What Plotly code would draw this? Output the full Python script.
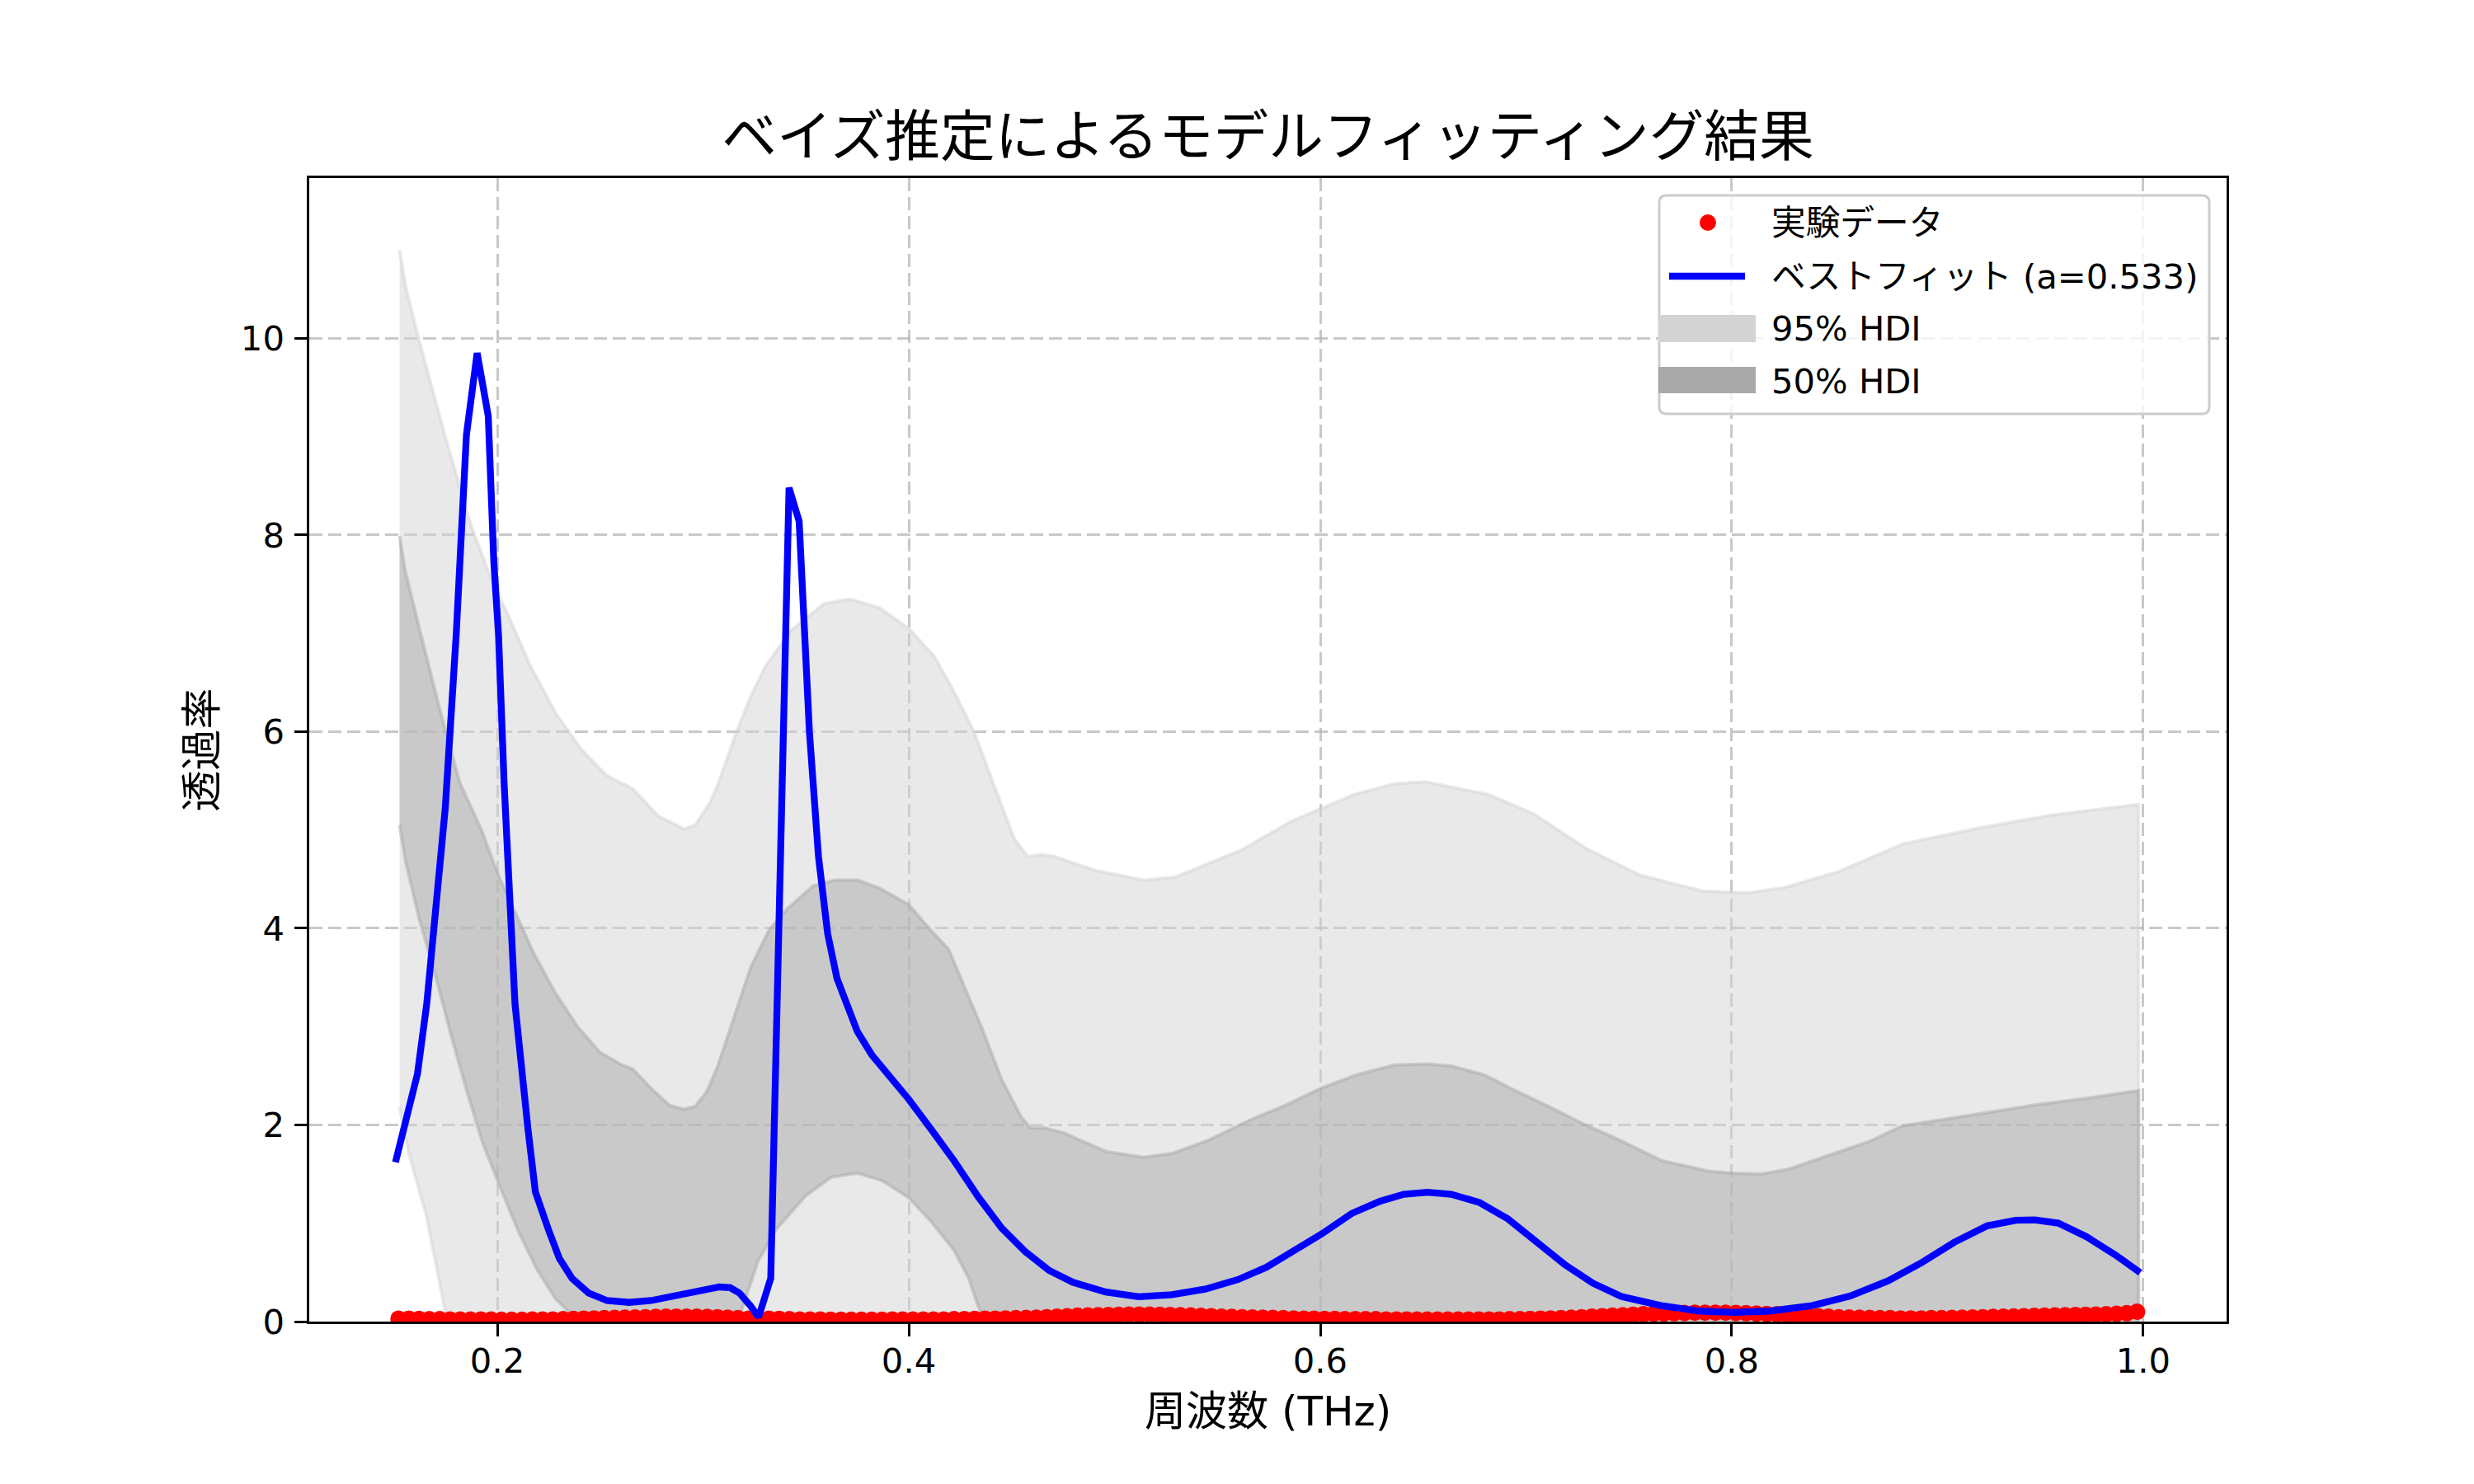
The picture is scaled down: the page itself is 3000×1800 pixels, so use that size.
import numpy as np
import plotly.graph_objects as go

FONT = "DejaVu Sans, Noto Sans CJK JP"

# experimental data (transmission at each measured frequency)
trans_exp = [
    0.03, 0.03, 0.028, 0.025, 0.025, 0.022, 0.02, 0.02, 0.02, 0.02,
    0.018, 0.018, 0.018, 0.02, 0.02, 0.022, 0.025, 0.028, 0.03, 0.032,
    0.035, 0.038, 0.04, 0.042, 0.045, 0.048, 0.05, 0.05, 0.05, 0.05,
    0.048, 0.045, 0.04, 0.035, 0.03, 0.03, 0.03, 0.028, 0.025, 0.022,
    0.02, 0.02, 0.018, 0.018, 0.018, 0.018, 0.018, 0.018, 0.02, 0.02,
    0.02, 0.02, 0.022, 0.022, 0.025, 0.025, 0.028, 0.03, 0.03, 0.032,
    0.035, 0.038, 0.04, 0.045, 0.05, 0.055, 0.06, 0.062, 0.065, 0.068,
    0.07, 0.072, 0.072, 0.072, 0.07, 0.068, 0.065, 0.062, 0.058, 0.055,
    0.05, 0.048, 0.045, 0.042, 0.04, 0.038, 0.035, 0.032, 0.03, 0.03,
    0.028, 0.028, 0.025, 0.025, 0.025, 0.025, 0.022, 0.022, 0.022, 0.02,
    0.02, 0.02, 0.02, 0.02, 0.02, 0.02, 0.022, 0.022, 0.025, 0.025,
    0.028, 0.03, 0.032, 0.035, 0.04, 0.045, 0.05, 0.055, 0.06, 0.065,
    0.07, 0.075, 0.08, 0.082, 0.085, 0.088, 0.09, 0.09, 0.09, 0.09,
    0.088, 0.085, 0.082, 0.078, 0.075, 0.07, 0.065, 0.06, 0.055, 0.05,
    0.045, 0.042, 0.04, 0.038, 0.035, 0.035, 0.032, 0.032, 0.032, 0.035,
    0.035, 0.038, 0.04, 0.042, 0.045, 0.048, 0.05, 0.052, 0.055, 0.058,
    0.06, 0.062, 0.065, 0.068, 0.07, 0.072, 0.075, 0.08, 0.085, 0.1,
]
freq_exp = np.linspace(0.152, 0.997, len(trans_exp))

# best fit curve
fit_x = [0.1505, 0.1559, 0.1612, 0.1657, 0.1702, 0.1747, 0.1800, 0.1850, 0.1902, 0.1956,
         0.1983, 0.2006, 0.2033, 0.2059, 0.2086, 0.2149, 0.2185, 0.2247, 0.2301, 0.2363,
         0.2444, 0.2533, 0.2640, 0.2748, 0.2873, 0.2998, 0.3079, 0.3132, 0.3177, 0.3231,
         0.3270, 0.3329, 0.3356, 0.3383, 0.3418, 0.3467, 0.3517, 0.3561, 0.3606, 0.3651,
         0.3705, 0.3750, 0.3821, 0.3911, 0.4000, 0.4107, 0.4222, 0.4337, 0.4452, 0.4567,
         0.4682, 0.4797, 0.4958, 0.5118, 0.5279, 0.5440, 0.5601, 0.5739, 0.5877, 0.6006,
         0.6153, 0.6291, 0.6406, 0.6521, 0.6636, 0.6774, 0.6912, 0.7050, 0.7187, 0.7325,
         0.7463, 0.7656, 0.7840, 0.8012, 0.8185, 0.8391, 0.8575, 0.8759, 0.8920, 0.9081,
         0.9242, 0.9380, 0.9472, 0.9587, 0.9725, 0.9863, 0.9985]
fit_y = [1.62, 2.05, 2.52, 3.23, 4.20, 5.22, 6.98, 9.02, 9.85, 9.21,
         7.73, 6.98, 5.48, 4.35, 3.23, 1.96, 1.32, 0.944, 0.645, 0.44,
         0.29, 0.214, 0.195, 0.214, 0.27, 0.326, 0.352, 0.345, 0.29, 0.158,
         0.045, 0.44, 3.0, 5.3, 8.48, 8.14, 6.0, 4.73, 3.94, 3.49,
         3.17, 2.95, 2.71, 2.49, 2.26, 1.96, 1.63, 1.27, 0.95, 0.71,
         0.52, 0.40, 0.30, 0.252, 0.274, 0.33, 0.428, 0.554, 0.722, 0.89,
         1.10, 1.225, 1.295, 1.315, 1.295, 1.211, 1.044, 0.806, 0.582, 0.39,
         0.255, 0.163, 0.107, 0.093, 0.107, 0.163, 0.26, 0.414, 0.596, 0.806,
         0.974, 1.03, 1.035, 1.001, 0.862, 0.68, 0.498]

# 95% HDI
hdi95_hi_x = [0.1525, 0.1553, 0.1621, 0.1747, 0.1872, 0.1979, 0.2050, 0.2158, 0.2283, 0.2408,
              0.2533, 0.2658, 0.2784, 0.2909, 0.2962, 0.3034, 0.3070, 0.3105, 0.3160, 0.3230,
              0.3302, 0.3427, 0.3588, 0.3713, 0.3856, 0.4000, 0.4122, 0.4209, 0.4317, 0.4426,
              0.4513, 0.4578, 0.4643, 0.4708, 0.4904, 0.5143, 0.5295, 0.5621, 0.5860, 0.6164,
              0.6360, 0.6512, 0.6816, 0.7033, 0.7293, 0.7554, 0.7858, 0.8075, 0.8249, 0.8510,
              0.8835, 0.9204, 0.9552, 0.9977]
hdi95_hi = [10.90, 10.54, 9.97, 9.00, 8.10, 7.50, 7.20, 6.68, 6.19, 5.82,
            5.55, 5.42, 5.14, 5.01, 5.05, 5.28, 5.45, 5.65, 5.98, 6.35,
            6.66, 7.03, 7.30, 7.35, 7.26, 7.05, 6.77, 6.45, 6.00, 5.39,
            4.91, 4.73, 4.75, 4.73, 4.59, 4.49, 4.52, 4.80, 5.09, 5.36,
            5.47, 5.49, 5.36, 5.17, 4.81, 4.54, 4.38, 4.36, 4.41, 4.57,
            4.86, 5.02, 5.15, 5.26]
hdi95_lo_x = [0.1525, 0.1568, 0.1657, 0.1757, 0.19, 0.25, 0.35, 0.45, 0.60, 0.80, 0.9977]
hdi95_lo = [2.18, 1.73, 1.06, 0.0, -1.2, -2.0, -1.5, -2.0, -1.5, -1.8, -1.2]

# 50% HDI
hdi50_hi_x = [0.1525, 0.1553, 0.1621, 0.1720, 0.1818, 0.1925, 0.1997, 0.2086, 0.2176, 0.2283,
              0.2390, 0.2498, 0.2605, 0.2658, 0.2748, 0.2837, 0.2909, 0.2962, 0.3016, 0.3070,
              0.3141, 0.3231, 0.3320, 0.3410, 0.3535, 0.3642, 0.3750, 0.3856, 0.4000, 0.4107,
              0.4193, 0.4360, 0.4452, 0.4544, 0.4590, 0.4659, 0.4751, 0.4958, 0.5141, 0.5280,
              0.5463, 0.5647, 0.5831, 0.6000, 0.6176, 0.6360, 0.6521, 0.6636, 0.6797, 0.6957,
              0.7118, 0.7279, 0.7440, 0.7656, 0.7886, 0.8012, 0.8139, 0.8276, 0.8484, 0.8667,
              0.8828, 0.9035, 0.9265, 0.9494, 0.9725, 0.9977]
hdi50_hi = [7.99, 7.63, 7.05, 6.23, 5.48, 4.99, 4.58, 4.17, 3.75, 3.34,
            3.00, 2.74, 2.61, 2.57, 2.37, 2.20, 2.16, 2.19, 2.33, 2.59,
            3.04, 3.60, 3.98, 4.20, 4.43, 4.49, 4.49, 4.41, 4.24, 3.98,
            3.79, 2.96, 2.46, 2.09, 1.97, 1.97, 1.92, 1.73, 1.67, 1.71,
            1.85, 2.04, 2.20, 2.37, 2.51, 2.61, 2.62, 2.60, 2.51, 2.34,
            2.18, 2.01, 1.86, 1.64, 1.53, 1.51, 1.50, 1.55, 1.70, 1.83,
            1.99, 2.06, 2.14, 2.21, 2.27, 2.35]
hdi50_lo_x = [0.1525, 0.1553, 0.1621, 0.1693, 0.1773, 0.1854, 0.1925, 0.2015, 0.2104, 0.2193,
              0.2283, 0.2372, 0.25, 0.28, 0.30, 0.3169, 0.3266, 0.3356, 0.3499, 0.3624,
              0.3750, 0.3874, 0.4000, 0.4107, 0.4222, 0.4291, 0.4337, 0.4370, 0.46, 0.55,
              0.65, 0.80, 0.9977]
hdi50_lo = [5.05, 4.69, 4.09, 3.57, 2.93, 2.33, 1.84, 1.36, 0.91, 0.53,
            0.23, 0.05, -0.3, -0.5, -0.4, 0.0, 0.61, 0.94, 1.28, 1.47,
            1.51, 1.43, 1.26, 1.02, 0.72, 0.44, 0.16, 0.0, -0.5, -0.8,
            -0.6, -0.9, -0.6]

x_ticks = [0.2, 0.4, 0.6, 0.8, 1.0]
x_ticktext = ["0.2", "0.4", "0.6", "0.8", "1.0"]
y_ticks = [0, 2, 4, 6, 8, 10]
y_ticktext = ["0", "2", "4", "6", "8", "10"]

legend_labels = ["実験データ", "ベストフィット (a=0.533)", "95% HDI", "50% HDI"]

fig = go.Figure()

# bands as closed polygons (upper forward, lower backward)
fig.add_trace(go.Scatter(x=hdi95_hi_x + hdi95_lo_x[::-1], y=hdi95_hi + hdi95_lo[::-1],
                         fill="toself", fillcolor="rgba(211,211,211,0.5)", mode="lines",
                         line=dict(color="rgba(211,211,211,0.5)", width=4),
                         showlegend=False, hoverinfo="skip"))
fig.add_trace(go.Scatter(x=hdi50_hi_x + hdi50_lo_x[::-1], y=hdi50_hi + hdi50_lo[::-1],
                         fill="toself", fillcolor="rgba(169,169,169,0.5)", mode="lines",
                         line=dict(color="rgba(169,169,169,0.5)", width=4),
                         showlegend=False, hoverinfo="skip"))
fig.add_trace(go.Scatter(x=freq_exp, y=trans_exp, mode="markers",
                         marker=dict(color="red", size=20, line=dict(width=0)),
                         showlegend=False))
fig.add_trace(go.Scatter(x=fit_x, y=fit_y, mode="lines",
                         line=dict(color="blue", width=8.3), showlegend=False))

# the page body has an 8px margin, so work in page pixels and shift
OFF = 8
W, H = 3000 - 2 * OFF, 1800 - 2 * OFF
L, R, T, B = 375 - OFF, 2700 - OFF, 216 - OFF, 1603 - OFF


def px(x):
    return (x - OFF - L) / (R - L)


def py(y):
    return (B - (y - OFF)) / (B - T)


# hand-built legend box
x0, x1, y0, y1, r = 2012, 2679, 237, 502, 9
box = (f"M{px(x0 + r)},{py(y0)} L{px(x1 - r)},{py(y0)} Q{px(x1)},{py(y0)} {px(x1)},{py(y0 + r)} "
       f"L{px(x1)},{py(y1 - r)} Q{px(x1)},{py(y1)} {px(x1 - r)},{py(y1)} "
       f"L{px(x0 + r)},{py(y1)} Q{px(x0)},{py(y1)} {px(x0)},{py(y1 - r)} "
       f"L{px(x0)},{py(y0 + r)} Q{px(x0)},{py(y0)} {px(x0 + r)},{py(y0)} Z")
shapes = [
    dict(type="path", path=box, xref="paper", yref="paper", layer="above",
         fillcolor="rgba(255,255,255,0.8)", line=dict(color="#cccccc", width=3)),
    dict(type="circle", xref="paper", yref="paper", layer="above",
         x0=px(2061), x1=px(2081), y0=py(280), y1=py(260),
         fillcolor="red", line=dict(width=0)),
    dict(type="line", xref="paper", yref="paper", layer="above",
         x0=px(2024), x1=px(2116), y0=py(335), y1=py(335),
         line=dict(color="blue", width=8.3)),
    dict(type="rect", xref="paper", yref="paper", layer="above",
         x0=px(2011), x1=px(2129), y0=py(415), y1=py(382),
         fillcolor="#d3d3d3", line=dict(width=0)),
    dict(type="rect", xref="paper", yref="paper", layer="above",
         x0=px(2011), x1=px(2129), y0=py(477), y1=py(445),
         fillcolor="#a9a9a9", line=dict(width=0)),
]

annotations = []
for label, yy in zip(legend_labels, [270, 335, 398, 462]):
    annotations.append(dict(text=label, x=px(2146), y=py(yy), xref="paper", yref="paper",
                            xanchor="left", yanchor="middle", showarrow=False,
                            font=dict(family=FONT, size=41.7, color="black")))
annotations.append(dict(text="周波数 (THz)", x=0.5, y=py(1712), xref="paper", yref="paper",
                        xanchor="center", yanchor="middle", showarrow=False,
                        font=dict(family=FONT, size=50, color="black")))
annotations.append(dict(text="透過率", x=px(244), y=0.5, xref="paper", yref="paper",
                        xanchor="center", yanchor="middle", showarrow=False, textangle=-90,
                        font=dict(family=FONT, size=50, color="black")))

axis_common = dict(showline=True, linecolor="black", linewidth=3.3, mirror=True,
                   ticks="outside", ticklen=14.6, tickwidth=3.3, tickcolor="black",
                   showgrid=True, gridcolor="rgba(176,176,176,0.7)", gridwidth=3,
                   griddash="16px,7px", zeroline=False,
                   tickfont=dict(family=FONT, size=41.7, color="black"))

fig.update_layout(
    width=W, height=H,
    margin=dict(l=L, r=W - R, t=T, b=H - B, autoexpand=False),
    paper_bgcolor="white", plot_bgcolor="white",
    title=dict(text="ベイズ推定によるモデルフィッティング結果", x=0.5, xref="paper",
               y=1 - (166 - OFF) / H, yref="container", xanchor="center", yanchor="middle",
               font=dict(family=FONT, size=66.7, color="black")),
    xaxis=dict(range=[0.1086, 1.0405], tickvals=x_ticks, ticktext=x_ticktext,
               ticklabelstandoff=-6, **axis_common),
    yaxis=dict(range=[0, 11.63], tickvals=y_ticks, ticktext=y_ticktext,
               ticklabelstandoff=4, **axis_common),
    shapes=shapes, annotations=annotations, showlegend=False,
    font=dict(family=FONT),
)

fig.write_html("out.html")
